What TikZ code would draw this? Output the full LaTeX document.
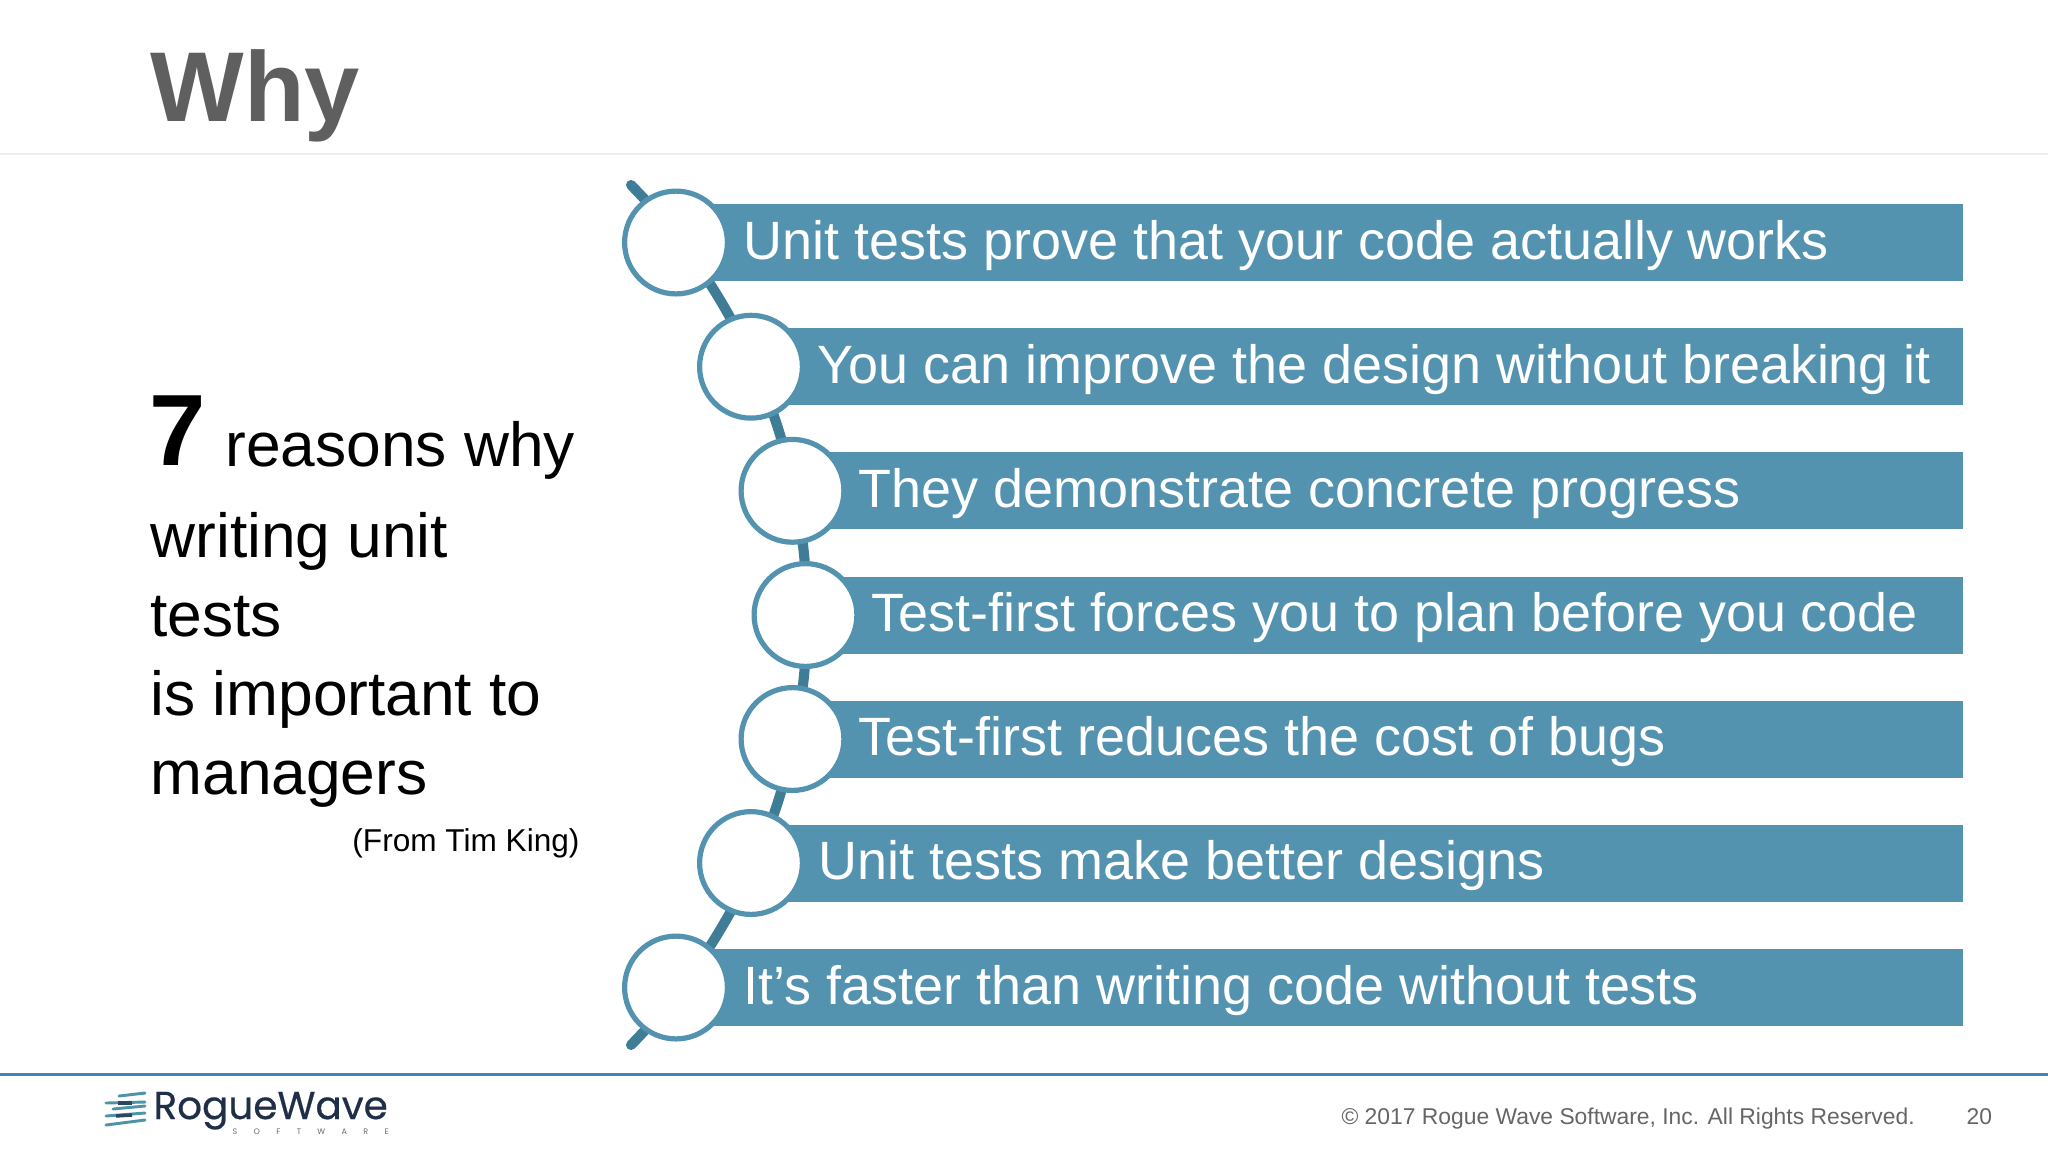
\documentclass[tikz,border=0pt]{standalone}
\usepackage{fontspec}
\setmainfont{Liberation Sans}
\newfontfamily\logofont[FakeBold=0.5]{Poppins}
\newfontfamily\logosubfont[LetterSpace=205]{Poppins}
\definecolor{barblue}{HTML}{5393B0}
\definecolor{spineblue}{HTML}{3F7D96}
\definecolor{titlegray}{HTML}{5F5F5F}
\definecolor{rulegray}{HTML}{EDEDED}
\definecolor{footblue}{HTML}{3F86BF}
\definecolor{footgray}{HTML}{666666}
\definecolor{logonavy}{HTML}{1F2F47}
\definecolor{logoteal}{HTML}{4E93A8}
\definecolor{logogray}{HTML}{6A6A6A}
\tikzset{
  spine/.style={draw=spineblue,line width=3.8pt,line cap=round},
  barfill/.style={fill=barblue},
  ring/.style={circle,draw=barblue,fill=white,line width=1.95pt,minimum size=38.55pt,inner sep=0pt},
  bartext/.style={anchor=base west,inner sep=0pt,text=white,font=\fontsize{20.23}{24}\selectfont},
  lefttext/.style={anchor=base west,inner sep=0pt,text=black,font=\fontsize{23.35}{28}\selectfont},
  foot/.style={inner sep=0pt,text=footgray,font=\fontsize{8.57}{11}\selectfont},
  stripe/.style={line width=1.1pt,draw=logoteal,line cap=round},
  stripecore/.style={line width=1.3pt,draw=logonavy!75!logoteal}
}
\begin{document}
\begin{tikzpicture}[x=0.375pt,y=-0.375pt]
\useasboundingbox (0,0) rectangle (2048,1152);
\fill[white] (0,0) rectangle (2048,1152);
% header
\draw[rulegray,line width=0.6pt] (0,154) -- (2048,154);
\node[anchor=base west,inner sep=0pt,text=titlegray,font=\fontsize{37.2}{44}\selectfont\bfseries] (title) at (150,121.5) {Why};
% left text
\node[anchor=base west,inner sep=0pt,font=\fontsize{38}{44}\selectfont\bfseries] (seven) at (149,465.5) {7};
\node[lefttext] (l1) at (225,466) {reasons why};
\node[lefttext] (l2) at (150,557) {writing unit};
\node[lefttext] (l3) at (150,636) {tests};
\node[lefttext] (l4) at (150,715) {is important to};
\node[lefttext] (l5) at (150,794) {managers};
\node[anchor=base east,inner sep=0pt,font=\fontsize{11.85}{14}\selectfont] (from) at (580,851) {(From Tim King)};
% spine
\coordinate (spinetop) at (631,185);
\draw[spine] (spinetop) arc[start angle=-44.52,end angle=44.52,radius=613.3];
% bars, rings, labels
\foreach \n/\cx/\cy/\tx/\txt in {
  1/676/242.5/743/{Unit tests prove that your code actually works},
  2/751/366.7/817/{You can improve the design without breaking it},
  3/792.5/490.8/858/{They demonstrate concrete progress},
  4/805.5/615/871/{Test-first forces you to plan before you code},
  5/792.5/739/858/{Test-first reduces the cost of bugs},
  6/751/863/818/{Unit tests make better designs},
  7/676/987.5/743/{It’s faster than writing code without tests}}{
  \fill[barfill] (\cx,\cy-38.5) rectangle (1963,\cy+38.5);
  \node[ring] (ring\n) at (\cx,\cy) {};
  \node[bartext] (label\n) at (\tx,\cy+16.5) {\txt};
}
% footer
\draw[footblue,line width=0.8pt] (0,1074.5) -- (2048,1074.5);
\node[foot,anchor=base west] (copy) at (1341,1124) {© 2017 Rogue Wave Software, Inc. All Rights Reserved.};
\node[foot,anchor=base west] (page) at (1966,1124) {20};
% logo
\draw[stripe] (119,1096) -- (145,1093);
\draw[stripe] (106,1103) -- (145,1102);
\draw[stripe] (113,1109) -- (145,1106);
\draw[stripe] (106,1116) -- (145,1113);
\draw[stripe] (106,1125) -- (145,1120);
\draw[stripecore] (118,1103) -- (132,1103);
\draw[stripecore] (116,1116) -- (132,1115);
\node[anchor=base west,inner sep=0pt,text=logonavy,font=\logofont\fontsize{14.6}{16}\selectfont] (logo) at (153,1119) {RogueWave};
\node[anchor=base west,inner sep=0pt,text=logogray,font=\logosubfont\fontsize{3}{4}\selectfont] (logosub) at (232,1134) {SOFTWARE};
\end{tikzpicture}
\end{document}
